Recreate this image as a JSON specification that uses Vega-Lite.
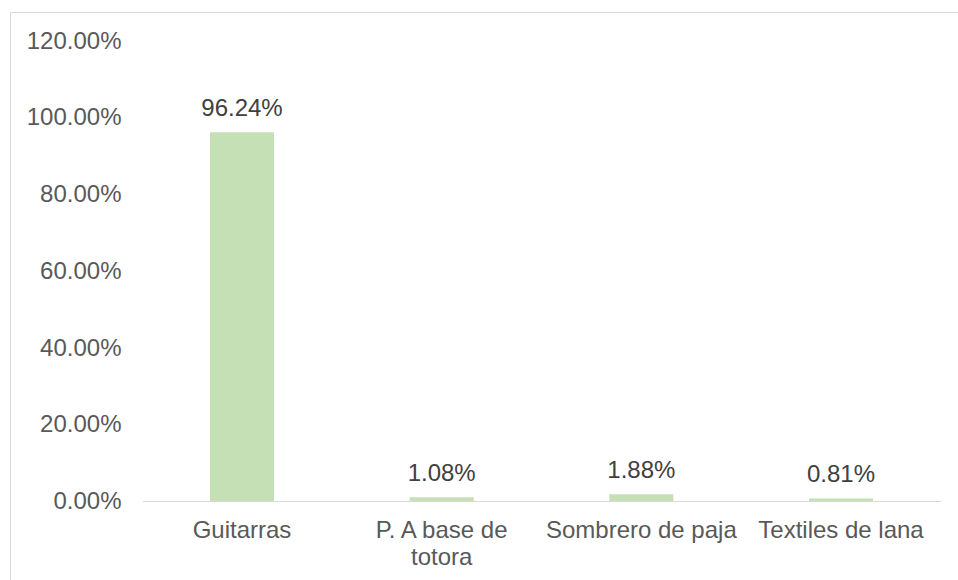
{
  "$schema": "https://vega.github.io/schema/vega-lite/v6.json",
  "width": 949,
  "height": 569,
  "autosize": {"type": "none"},
  "padding": {"left": 10, "top": 12, "right": -1, "bottom": -1},
  "background": "white",
  "config": {
    "view": {"stroke": "#d9d9d9", "strokeWidth": 1},
    "font": "Liberation Sans"
  },
  "data": {
    "values": [
      {"categoria": "Guitarras", "valor": 0.9624},
      {"categoria": "P. A base de totora", "valor": 0.0108},
      {"categoria": "Sombrero de paja", "valor": 0.0188},
      {"categoria": "Textiles de lana", "valor": 0.0081}
    ]
  },
  "resolve": {"scale": {"x": "shared", "y": "shared"}},
  "layer": [
    {
      "mark": {"type": "bar", "color": "#C5E0B4"},
      "encoding": {
        "x": {
          "field": "categoria",
          "type": "nominal",
          "sort": null,
          "scale": {
            "domain": ["Guitarras", "P. A base de totora", "Sombrero de paja", "Textiles de lana"],
            "paddingInner": 0.6795,
            "paddingOuter": 0.7162,
            "align": 0.6993,
            "round": false
          },
          "axis": {
            "orient": "bottom",
            "offset": -79.5,
            "domain": false,
            "ticks": false,
            "tickSize": 0,
            "labelPadding": 17,
            "labelAngle": 0,
            "labelFontSize": 24,
            "labelColor": "#595959",
            "labelLineHeight": 27,
            "labelLimit": 0,
            "labelExpr": "datum.value == 'P. A base de totora' ? ['P. A base de', 'totora'] : datum.label",
            "title": null
          }
        },
        "y": {
          "field": "valor",
          "type": "quantitative",
          "scale": {"domain": [-0.20725, 1.2761], "nice": false, "zero": false},
          "axis": {
            "orient": "left",
            "offset": -111,
            "domain": false,
            "ticks": false,
            "tickSize": 0,
            "grid": false,
            "labelPadding": 0,
            "labelFontSize": 24,
            "labelColor": "#595959",
            "values": [0, 0.2, 0.4, 0.6, 0.8, 1.0, 1.2],
            "format": ".2%",
            "title": null
          }
        }
      }
    },
    {
      "mark": {"type": "text", "fontSize": 24, "color": "#404040", "baseline": "alphabetic", "dy": -16},
      "encoding": {
        "x": {"field": "categoria", "type": "nominal", "sort": null},
        "y": {"field": "valor", "type": "quantitative"},
        "text": {"field": "valor", "type": "quantitative", "format": ".2%"}
      }
    },
    {
      "data": {"values": [{"base": 0}]},
      "mark": {"type": "rule", "color": "#d9d9d9", "strokeWidth": 1},
      "encoding": {
        "x": {"datum": "Guitarras", "type": "nominal", "bandPosition": -1.047},
        "x2": {"datum": "Textiles de lana", "bandPosition": 2.0625},
        "y": {"field": "base", "type": "quantitative"}
      }
    }
  ]
}
